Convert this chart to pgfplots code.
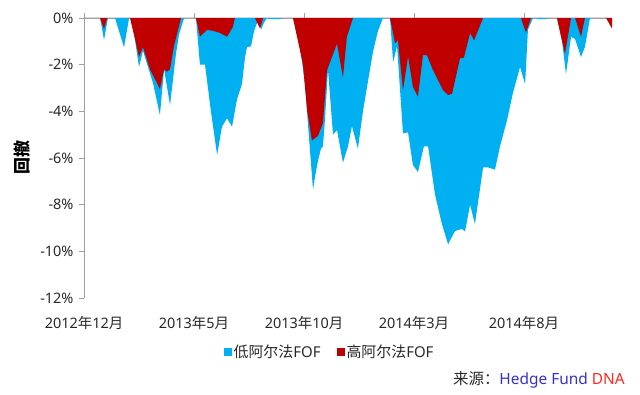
\documentclass[border=0pt]{standalone}
\usepackage{pgfplots}
\pgfplotsset{compat=1.18}
\usepackage{pgfplotstable}
\usepackage{fontspec}
\setmainfont{Noto Sans}
\newfontfamily\cjk{Noto Sans CJK SC}
\definecolor{lowc}{HTML}{00B0F0}
\definecolor{highc}{HTML}{C00000}
\definecolor{axc}{RGB}{160,160,160}
\definecolor{txt}{RGB}{40,40,40}
\definecolor{srcblue}{RGB}{51,51,204}
\definecolor{srcred}{RGB}{255,40,40}

\pgfplotstableread{
m dd
0 0
0.73 0
0.91 -0.94
1.09 0
1.41 0
1.82 -1.26
2.05 0
2.14 0
2.32 -0.95
2.5 -2.1
2.68 -1.4
2.91 -2.1
3.14 -2.8
3.45 -4.16
3.64 -2.2
3.91 -3.73
4.18 -1.54
4.32 -0.7
4.55 0
5.09 0
5.27 -2.0
5.5 -2.0
5.77 -4.0
6.05 -5.87
6.27 -4.66
6.5 -4.3
6.73 -4.66
6.95 -3.5
7.18 -2.83
7.32 -1.67
7.41 -1.24
7.59 -1.22
7.73 -0.56
7.91 -0.1
8.05 -0.5
8.18 -0.2
8.32 0
8.45 -0.05
8.91 -0.05
9.05 0
9.5 0
9.82 -1.24
10.05 -2.87
10.18 -4.54
10.41 -7.35
10.5 -6.8
10.64 -6.1
10.77 -5.6
10.86 -5.5
10.95 -4.4
11.09 -2.2
11.32 -5.0
11.5 -4.8
11.77 -6.2
12.0 -5.5
12.18 -4.63
12.45 -5.6
12.68 -4.0
12.91 -2.7
13.14 -1.43
13.36 -0.56
13.59 0
13.91 0
14.05 -1.9
14.23 -1.2
14.36 -3.0
14.5 -4.95
14.73 -4.9
14.95 -6.3
15.18 -6.6
15.45 -5.5
15.64 -5.5
15.95 -7.54
16.27 -8.83
16.55 -9.7
16.86 -9.13
17.18 -9.04
17.32 -9.15
17.55 -8.0
17.77 -8.83
18.14 -6.4
18.36 -6.4
18.68 -6.5
18.91 -5.5
19.23 -4.37
19.5 -3.2
19.82 -2.1
20.05 -2.83
20.18 -0.5
20.41 0
20.73 -0.05
20.95 -0.05
21.09 0
21.5 0
21.73 -1.0
21.91 -2.4
22.14 -0.8
22.32 -0.9
22.59 -1.67
22.77 -1.24
23.0 0
24 0
}\lowalpha

\pgfplotstableread{
m dd
0 0
0.73 0
0.91 -0.47
1.05 0
2.09 0
2.32 -0.9
2.5 -1.67
2.68 -1.25
3.0 -2.2
3.27 -2.7
3.45 -3.05
3.64 -2.2
3.77 -2.3
3.91 -2.2
4.09 -1.2
4.41 0
5.09 0
5.27 -0.8
5.59 -0.51
5.86 -0.55
6.18 -0.64
6.5 -0.8
6.77 -0.38
6.86 0
7.77 0
8.0 -0.45
8.14 0
9.5 0
9.95 -1.97
10.14 -3.94
10.36 -5.25
10.64 -5.05
10.86 -4.5
11.05 -2.23
11.5 -1.1
11.77 -2.55
11.95 -0.8
12.23 0
13.91 0
14.14 -1.09
14.27 -0.95
14.5 -3.1
14.73 -1.65
14.95 -2.95
15.18 -3.37
15.41 -1.58
15.59 -1.6
15.86 -2.23
16.32 -3.09
16.55 -3.3
16.73 -3.25
17.09 -1.73
17.27 -1.7
17.55 -0.64
17.73 -0.96
18.14 0
19.86 0
20.09 -0.62
20.32 0
21.5 0
21.86 -1.54
22.14 0
22.32 0
22.59 -0.8
22.77 0
23.73 0
24 -0.45
}\highalpha

\begin{document}
\begin{tikzpicture}
\begin{axis}[name=ax, scale only axis, width=528bp, height=280bp,
  xmin=0, xmax=24, ymin=-12, ymax=0,
  axis x line*=top, axis y line*=left,
  axis line style={axc, line width=0.8bp, -},
  xtick={0,5,10,15,20},
  xticklabels={2012{\cjk 年}12{\cjk 月},2013{\cjk 年}5{\cjk 月},2013{\cjk 年}10{\cjk 月},2014{\cjk 年}3{\cjk 月},2014{\cjk 年}8{\cjk 月}},
  xticklabel style={anchor=center, yshift=-310bp},
  ytick={-12,-10,-8,-6,-4,-2,0},
  yticklabels={-12\%,-10\%,-8\%,-6\%,-4\%,-2\%,0\%},
  yticklabel style={xshift=-2bp},
  tick align=outside, major tick length=5bp,
  tick style={axc, line width=0.8bp},
  ticklabel style={font=\fontsize{14.5}{17}\selectfont, text=txt},
  ylabel={\cjk\bfseries 回撤},
  ylabel style={font=\fontsize{17}{20}\selectfont, text=black, at={(rel axis cs:-0.117,0.5)}, anchor=center},
  area legend,
  legend columns=2,
  legend image code/.code={\fill[#1] (-3bp,-4bp) rectangle (5bp,4bp);},
  legend style={draw=none, fill=none, at={(0.465,-0.193)}, anchor=center,
    font=\fontsize{15}{18}\selectfont, text=txt,
    /tikz/every even column/.append style={column sep=14bp}},
]
\addplot[fill=lowc, draw=none] table[x=m, y=dd] {\lowalpha} \closedcycle;
\addlegendentry{{\cjk 低阿尔法}FOF}
\addplot[fill=highc, draw=none] table[x=m, y=dd] {\highalpha} \closedcycle;
\addlegendentry{{\cjk 高阿尔法}FOF}
\end{axis}
\node[anchor=east, inner sep=0pt, font=\fontsize{15.5}{18}\selectfont, text=txt] at ([xshift=13bp,yshift=-82bp]ax.south east) {{\cjk 来源：}\textcolor{srcblue}{Hedge Fund} \textcolor{srcred}{DNA}};
\pgfresetboundingbox
\path[use as bounding box] ([xshift=-84bp,yshift=-97bp]ax.south west) rectangle ([xshift=28bp,yshift=18bp]ax.north east);
\end{tikzpicture}
\end{document}
